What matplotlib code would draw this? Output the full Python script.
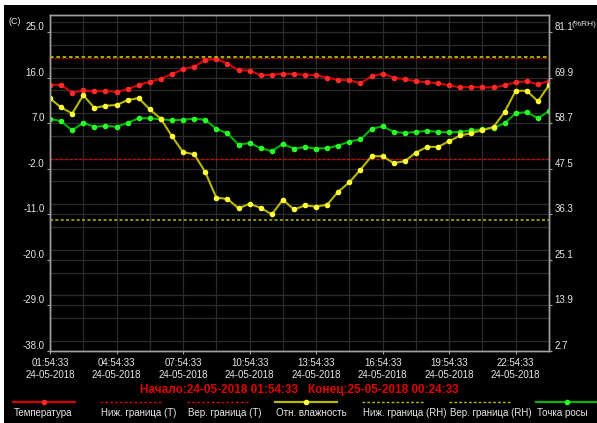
import matplotlib
matplotlib.use("Agg")
import matplotlib.pyplot as plt
import matplotlib.dates as mdates
from matplotlib.lines import Line2D
from matplotlib.patches import Rectangle
from matplotlib.ticker import FixedLocator, MultipleLocator, FormatStrFormatter
import pandas as pd

plt.rcParams['font.family'] = ['Liberation Sans', 'DejaVu Sans']

# замеры каждые 30 минут
times = pd.date_range('2018-05-24 01:54:33', periods=46, freq='30min')

temp = [14.6, 14.6, 13.0, 13.5, 13.3, 13.4, 13.2, 13.7, 14.6, 15.2,
        15.8, 16.7, 17.7, 18.2, 19.5, 19.7, 18.8, 17.5, 17.4, 16.5,
        16.6, 16.8, 16.7, 16.6, 16.5, 16.0, 15.6, 15.5, 14.9, 16.3,
        16.8, 16.0, 15.7, 15.3, 15.1, 14.9, 14.5, 14.1, 14.2, 14.1,
        14.1, 14.5, 15.1, 15.3, 14.7, 15.3]

dew = [7.9, 7.4, 5.6, 7.1, 6.3, 6.5, 6.3, 7.1, 8.0, 8.0,
       7.8, 7.6, 7.7, 7.9, 7.7, 5.9, 5.0, 2.8, 3.1, 2.1,
       1.5, 2.9, 2.0, 2.3, 2.0, 2.1, 2.6, 3.4, 3.8, 5.9,
       6.4, 5.3, 5.1, 5.3, 5.5, 5.3, 5.2, 5.3, 5.6, 5.8,
       6.1, 7.0, 9.0, 9.2, 8.0, 9.4]

rh = [64.8, 62.6, 61.1, 65.6, 62.5, 63.0, 63.2, 64.4, 64.9, 62.1,
      59.8, 55.5, 51.6, 51.1, 46.7, 40.4, 40.1, 37.8, 38.9, 37.9,
      36.3, 39.9, 37.5, 38.5, 38.2, 38.7, 41.9, 44.2, 47.3, 50.6,
      50.6, 48.9, 49.4, 51.5, 52.9, 52.9, 54.3, 55.7, 56.3, 57.0,
      57.8, 61.5, 66.7, 66.7, 64.1, 68.1]

t_low, t_high = 0.0, 20.0
rh_low, rh_high = 35.0, 75.0

t_ticks = [-38.0, -29.0, -20.0, -11.0, -2.0, 7.0, 16.0, 25.0]
rh_ticks = [2.7, 13.9, 25.1, 36.3, 47.5, 58.7, 69.9, 81.1]
t_min, t_max = -38.0, 28.4


def t_to_rh(t):
    # правая шкала линейно связана с левой
    return 2.7 + (t + 38.0) * 11.2 / 9.0


RED, RED_M = '#d40000', '#ff2a2a'
YEL, YEL_M = '#b8b800', '#ffff3a'
GRN, GRN_M = '#00b400', '#2aff2a'
TXT = '#e6e6e6'
SPINE = '#a0a0a0'
DASH = (0, (2, 1.5))

fig = plt.figure(figsize=(5.97, 4.23), dpi=100, facecolor='black')
W, H = 597.0, 423.0
# белая рамка сверху и слева
fig.patches.append(Rectangle((0, 1 - 5 / H), 1, 5 / H, transform=fig.transFigure,
                             facecolor='white', edgecolor='none', zorder=0))
fig.patches.append(Rectangle((0, 0), 4 / W, 1, transform=fig.transFigure,
                             facecolor='white', edgecolor='none', zorder=0))

ax = fig.add_axes([50 / W, (H - 351) / H, 499 / W, 336 / H], facecolor='black')
ax2 = ax.twinx()

x = mdates.date2num(times)

ax.plot(x, [t_high] * len(x), color=RED, lw=0.8, ls=DASH)
ax.plot(x, [t_low] * len(x), color=RED, lw=1, ls=DASH)
ax.plot(x, temp, color=RED, lw=1.5, marker='o', ms=3, mfc=RED_M, mec=RED_M)
ax.plot(x, dew, color=GRN, lw=1.5, marker='o', ms=3, mfc=GRN_M, mec=GRN_M)

ax2.plot(x, [rh_high] * len(x), color=YEL, lw=1.3, ls=DASH)
ax2.plot(x, [rh_low] * len(x), color=YEL, lw=1.1, ls=DASH)
ax2.plot(x, rh, color=YEL, lw=1.5, marker='o', ms=3, mfc=YEL_M, mec=YEL_M)

ax.set_xlim(x[0], x[-1])
ax.set_ylim(t_min, t_max)
ax2.set_ylim(t_to_rh(t_min), t_to_rh(t_max))

ax.yaxis.set_major_locator(FixedLocator(t_ticks))
ax.yaxis.set_minor_locator(MultipleLocator(4.5))
ax.yaxis.set_major_formatter(FormatStrFormatter('%.1f'))
ax2.yaxis.set_major_locator(FixedLocator(rh_ticks))
ax2.yaxis.set_major_formatter(FormatStrFormatter('%.1f'))

ax.xaxis.set_major_locator(FixedLocator(x[::6]))
ax.xaxis.set_minor_locator(FixedLocator(x[::3]))
ax.xaxis.set_major_formatter(mdates.DateFormatter('%H:%M:%S\n%d-%m-%Y'))

ax.grid(True, which='both', color='#2c2c2c', lw=0.9)

for a in (ax, ax2):
    for s in a.spines.values():
        s.set_color(SPINE)
        s.set_linewidth(1)
    a.tick_params(colors=SPINE, labelcolor=TXT, labelsize=7, length=2, width=0.8)
    a.tick_params(which='minor', length=0)
ax.tick_params(axis='y', pad=2)
ax2.tick_params(axis='y', pad=2)
ax.tick_params(axis='x', pad=3)
plt.setp(ax.get_xticklabels(), linespacing=1.25)

for tk in ax.yaxis.get_major_ticks():
    tk.label1.set_va('bottom')
for tk in ax2.yaxis.get_major_ticks():
    tk.label2.set_va('bottom')

fig.text(15 / W, 1 - 22 / H, '(C)', color=TXT, fontsize=6.5, ha='center', va='center')
fig.text(572 / W, 1 - 24 / H, '(%RH)', color=TXT, fontsize=6, ha='left', va='center')

fig.text(298 / W, 1 - 390 / H, 'Начало:24-05-2018 01:54:33', color='#e00000',
         fontsize=8.5, fontweight='bold', ha='right', va='center')
fig.text(308 / W, 1 - 390 / H, 'Конец:25-05-2018 00:24:33', color='#e00000',
         fontsize=8.5, fontweight='bold', ha='left', va='center')

# легенда: линия сверху, подпись снизу
legend_items = [
    ('Температура', RED, RED_M, '-', True),
    ('Ниж. граница (T)', RED, RED, DASH, False),
    ('Вер. граница (T)', RED, RED, DASH, False),
    ('Отн. влажность', YEL, YEL_M, '-', True),
    ('Ниж. граница (RH)', YEL, YEL, DASH, False),
    ('Вер. граница (RH)', YEL, YEL, DASH, False),
    ('Точка росы', GRN, GRN_M, '-', True),
]
for k, (name, col, mcol, ls, has_marker) in enumerate(legend_items):
    x0 = 13 + 87.2 * k
    y_line = 1 - 402 / H
    fig.add_artist(Line2D([x0 / W, (x0 + 62) / W], [y_line, y_line],
                          transform=fig.transFigure, color=col, lw=1.6 if ls == '-' else 1,
                          ls=ls))
    if has_marker:
        fig.add_artist(Line2D([(x0 + 31) / W], [y_line], transform=fig.transFigure,
                              marker='o', ms=3, mfc=mcol, mec=mcol, ls='none'))
    fig.text((x0 + 1) / W, 1 - 413 / H, name, color=TXT, fontsize=7,
             ha='left', va='center')

fig.savefig('out.png', dpi=100, facecolor=fig.get_facecolor())
